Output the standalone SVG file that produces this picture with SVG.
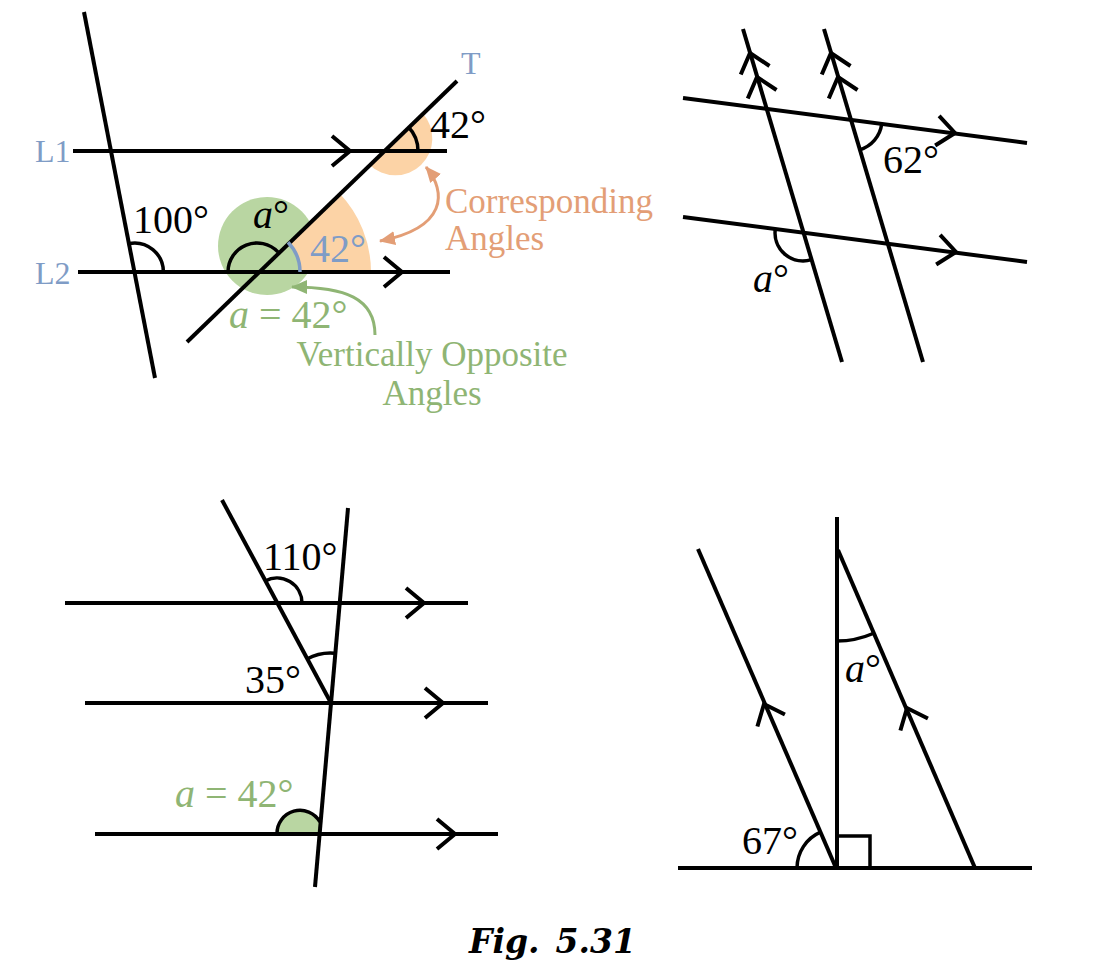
<svg xmlns="http://www.w3.org/2000/svg" width="1100" height="976" viewBox="0 0 1100 976">
<defs>
<style>
.ln{stroke:#000;stroke-width:4;fill:none;stroke-linecap:butt}
.arc{stroke:#000;stroke-width:3.5;fill:none}
.chev{stroke:#000;stroke-width:4;fill:none;stroke-linejoin:miter}
.t{font-family:"Liberation Serif","Times New Roman",serif;font-size:40px;fill:#000}
.it{font-style:italic}
.lab{font-family:"Liberation Serif","Times New Roman",serif;font-size:32px;fill:#7f9cc6}
.or{font-family:"Liberation Serif","Times New Roman",serif;font-size:35px;fill:#e39e76}
.gr{font-family:"Liberation Serif","Times New Roman",serif;font-size:35px;fill:#8fb574}
.blue{fill:#7f9cc6}
.grt{fill:#8fb574}
</style>
<path id="chv" d="M-18,-15 L0,0 L-18,15"/>
<marker id="ao" markerUnits="userSpaceOnUse" markerWidth="18" markerHeight="16" refX="15" refY="7" orient="auto-start-reverse" viewBox="0 0 18 14">
<path d="M0,0 L16,7 L0,14 Z" fill="#e39e76"/>
</marker>
<marker id="ag" markerUnits="userSpaceOnUse" markerWidth="18" markerHeight="16" refX="15" refY="7" orient="auto" viewBox="0 0 18 14">
<path d="M0,0 L16,7 L0,14 Z" fill="#8fb574"/>
</marker>
</defs>
<rect width="1100" height="976" fill="#fff"/>

<!-- Top-left figure -->
<g id="fig1">
<g id="fig1-fills">
<circle cx="267" cy="246" r="49" fill="#b9d6a2"/>
<path d="M300,272 L371,272 A114,114 0 0 0 339.2,193.1 L288,242.2 A43,43 0 0 1 300,272 Z" fill="#fcd3a6"/>
<path d="M422.6,113.3 A37,37 0 0 1 369.4,164.7 Z" fill="#fcd3a6"/>
</g>
<g id="fig1-lines">
<line class="ln" x1="84" y1="12" x2="155" y2="378"/>
<line class="ln" x1="73" y1="151" x2="447" y2="151"/>
<line class="ln" x1="78" y1="272" x2="450" y2="272"/>
<line class="ln" x1="457" y1="81" x2="187" y2="342"/>
<use href="#chv" class="chev" transform="translate(350,151)"/>
<use href="#chv" class="chev" transform="translate(402,272)"/>
</g>
<g id="fig1-angles">
<path class="arc" d="M163.4,272 A29,29 0 0 0 128.9,243.5"/>
<path class="arc" d="M418,151 A35,35 0 0 0 408.2,126.8"/>
<path class="arc" d="M228,272 A29,29 0 0 1 277.9,251.9"/>
<path d="M300,272 A43,43 0 0 0 288,242.2" fill="none" stroke="#7f9cc6" stroke-width="3.5"/>
</g>
<g id="fig1-connectors">
<path d="M426,167 C447,192 447,228 380,241" fill="none" stroke="#e39e76" stroke-width="3" marker-start="url(#ao)" marker-end="url(#ao)"/>
<path d="M375,335 C375,298 345,287 292,287" fill="none" stroke="#8fb574" stroke-width="3" marker-end="url(#ag)"/>
</g>
<g id="fig1-text">
<text class="lab" x="35" y="162">L1</text>
<text class="lab" x="35" y="284">L2</text>
<text class="lab" x="461" y="74">T</text>
<text class="t" x="133" y="233">100°</text>
<text class="t" x="430" y="138">42°</text>
<text class="t" x="253" y="228"><tspan class="it">a</tspan>°</text>
<text class="t blue" x="310" y="262">42°</text>
<text class="t grt" x="229" y="328"><tspan class="it">a</tspan> = 42°</text>
<text class="or" x="445" y="213">Corresponding</text>
<text class="or" x="445" y="250">Angles</text>
<text class="gr" x="432" y="366" text-anchor="middle">Vertically Opposite</text>
<text class="gr" x="432" y="405" text-anchor="middle">Angles</text>
</g>
</g>

<!-- Top-right figure -->
<g id="fig2">
<line class="ln" x1="743" y1="29" x2="842" y2="362"/>
<line class="ln" x1="824" y1="29" x2="923" y2="362"/>
<line class="ln" x1="683" y1="98" x2="1027" y2="143"/>
<line class="ln" x1="683" y1="217" x2="1027" y2="262"/>
<use href="#chv" class="chev" transform="translate(750,53) rotate(-106.6)"/>
<use href="#chv" class="chev" transform="translate(757,77) rotate(-106.6)"/>
<use href="#chv" class="chev" transform="translate(831,53) rotate(-106.6)"/>
<use href="#chv" class="chev" transform="translate(838,77) rotate(-106.6)"/>
<use href="#chv" class="chev" transform="translate(955,133) rotate(7.5)"/>
<use href="#chv" class="chev" transform="translate(956,252) rotate(7.5)"/>
<path class="arc" d="M881.7,124 A31,31 0 0 1 859.8,149.7"/>
<path class="arc" d="M775.3,229.2 A28,28 0 0 0 811.6,259.6"/>
<text class="t" x="883" y="173">62°</text>
<text class="t" x="753" y="292"><tspan class="it">a</tspan>°</text>
</g>

<!-- Bottom-left figure -->
<g id="fig3">
<path d="M277,834 A23,23 0 0 1 320,822 L319,834 Z" fill="#b9d6a2"/>
<line class="ln" x1="65" y1="603" x2="468" y2="603"/>
<line class="ln" x1="85" y1="703" x2="488" y2="703"/>
<line class="ln" x1="95" y1="834" x2="498" y2="834"/>
<line class="ln" x1="222" y1="500" x2="331" y2="703"/>
<line class="ln" x1="348" y1="508" x2="315" y2="887"/>
<use href="#chv" class="chev" transform="translate(424,603)"/>
<use href="#chv" class="chev" transform="translate(443,703)"/>
<use href="#chv" class="chev" transform="translate(455,834)"/>
<path class="arc" d="M302,603 A25,25 0 0 0 265.2,581"/>
<path class="arc" d="M307,659 A49,49 0 0 1 334.3,653.2"/>
<path class="arc" d="M277,834 A23,23 0 0 1 320,822"/>
<text class="t" x="263" y="570">110°</text>
<text class="t" x="245" y="693">35°</text>
<text class="t grt" x="175" y="807"><tspan class="it">a</tspan> = 42°</text>
</g>

<!-- Bottom-right figure -->
<g id="fig4">
<line class="ln" x1="837" y1="517" x2="837" y2="868"/>
<line class="ln" x1="678" y1="868" x2="1032" y2="868"/>
<line class="ln" x1="698" y1="549" x2="836" y2="868"/>
<line class="ln" x1="838" y1="550" x2="975" y2="868"/>
<use href="#chv" class="chev" transform="translate(764,704) rotate(-113.4)"/>
<use href="#chv" class="chev" transform="translate(907,708) rotate(-113.4)"/>
<path class="arc" d="M837,641 A91,91 0 0 0 873.1,633.5"/>
<path class="arc" d="M797,868 A39,39 0 0 1 820.5,832.2"/>
<path class="arc" d="M837,836 H870 V868"/>
<text class="t" x="845" y="682"><tspan class="it">a</tspan>°</text>
<text class="t" x="742" y="854">67°</text>
</g>

<g id="caption">
<text x="469" y="953" font-family="'DejaVu Serif',serif" font-size="33" font-weight="bold" font-style="italic" fill="#000">Fig.<tspan dx="16">5.31</tspan></text>
</g>
</svg>
